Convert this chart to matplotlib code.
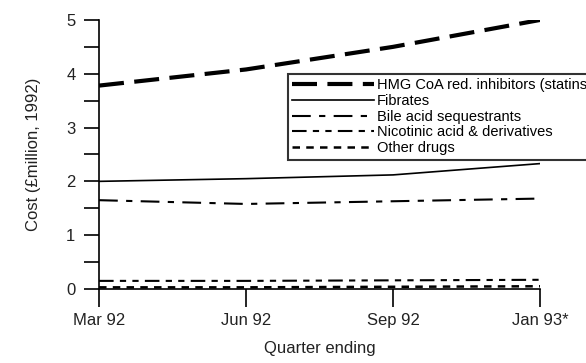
import matplotlib.pyplot as plt
import numpy as np

plt.rcParams['font.family'] = ['Liberation Sans', 'DejaVu Sans']

quarters = ['Mar 92', 'Jun 92', 'Sep 92', 'Jan 93*']
statins = [3.78, 4.08, 4.5, 5.0]
fibrates = [2.0, 2.05, 2.12, 2.33]
bile_acid = [1.65, 1.58, 1.63, 1.68]
nicotinic = [0.15, 0.15, 0.16, 0.17]
other = [0.03, 0.03, 0.04, 0.05]

fig = plt.figure(figsize=(5.86, 3.63), dpi=100)
ax = fig.add_axes([0.169, 0.204, 0.7525, 0.741])

x = np.arange(len(quarters))
ax.plot(x, statins, color='black', lw=3, dashes=(6, 2.5), label='HMG CoA red. inhibitors (statins)')
ax.plot(x, fibrates, color='black', lw=1.2, label='Fibrates')
ax.plot(x, bile_acid, color='black', lw=1.5, dashes=(9, 4, 3, 4), label='Bile acid sequestrants')
ax.plot(x, nicotinic, color='black', lw=1.5, dashes=(7, 3, 3, 3, 3, 3), label='Nicotinic acid & derivatives')
ax.plot(x, other, color='black', lw=1.8, dashes=(3, 2.5), label='Other drugs')

ax.set_xlim(0, 3)
ax.set_ylim(0, 5)
ax.set_xticks(x, quarters)
ax.set_yticks(range(6))
ax.set_yticks(np.arange(0.5, 5, 1), minor=True)
for s in ['top', 'right']:
    ax.spines[s].set_visible(False)
ax.spines['left'].set_linewidth(1.2)
ax.spines['bottom'].set_linewidth(1.2)
ax.tick_params(axis='y', which='both', length=11, width=1.2, direction='out', labelsize=12, colors='black', pad=6)
ax.tick_params(axis='x', length=13, width=1.2, direction='out', labelsize=12, pad=4)
for lab in ax.get_xticklabels() + ax.get_yticklabels():
    lab.set_color('#222222')
ax.set_ylabel('Cost (\u00a3million, 1992)', fontsize=12, color='#222222', labelpad=18)
ax.set_xlabel('Quarter ending', fontsize=12, color='#222222', labelpad=10)

leg = ax.legend(loc='upper left', bbox_to_anchor=(0.428, 0.80), fontsize=10.5,
                handlelength=5.6, handletextpad=0.2, labelspacing=0.12,
                borderpad=0.3, borderaxespad=0, frameon=True, fancybox=False, edgecolor='black')
leg.get_frame().set_linewidth(1.5)

fig.savefig('out.png', dpi=100)
